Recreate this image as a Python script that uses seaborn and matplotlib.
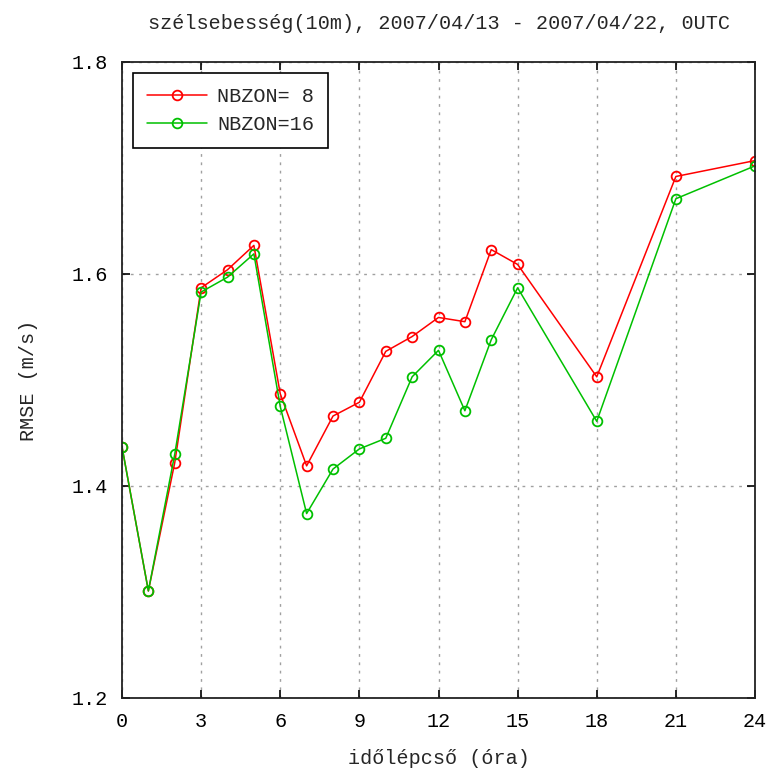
import matplotlib
matplotlib.use("Agg")
import matplotlib.pyplot as plt
import seaborn as sns
import pandas as pd

hours = [0, 1, 2, 3, 4, 5, 6, 7, 8, 9, 10, 11, 12, 13, 14, 15, 18, 21, 24]
rmse_nbzon8 = [1.437, 1.301, 1.422, 1.587, 1.604, 1.627, 1.487, 1.419, 1.466, 1.479,
               1.527, 1.541, 1.559, 1.555, 1.623, 1.609, 1.503, 1.692, 1.707]
rmse_nbzon16 = [1.437, 1.301, 1.430, 1.583, 1.597, 1.619, 1.475, 1.374, 1.416, 1.435,
                1.445, 1.503, 1.528, 1.471, 1.538, 1.587, 1.461, 1.671, 1.702]
series_names = ["NBZON= 8", "NBZON=16"]
x_ticks = [0, 3, 6, 9, 12, 15, 18, 21, 24]
y_ticks = [1.2, 1.4, 1.6, 1.8]
title = "szélsebesség(10m), 2007/04/13 - 2007/04/22, 0UTC"
xlabel = "időlépcső (óra)"
ylabel = "RMSE (m/s)"

sns.set_style("white")
plt.rcParams["font.family"] = ["Liberation Mono", "DejaVu Sans Mono"]
FS = 14.5

df = pd.DataFrame({
    "x": hours * 2,
    "y": rmse_nbzon8 + rmse_nbzon16,
    "series": [series_names[0]] * len(hours) + [series_names[1]] * len(hours),
})

fig = plt.figure(figsize=(7.78, 7.78), dpi=100)
ax = fig.add_axes([122 / 778, 1 - 698 / 778, (755 - 122) / 778, (698 - 62) / 778])

colors = {series_names[0]: "#ff0000", series_names[1]: "#00c000"}
for name in series_names:
    sub = df[df["series"] == name]
    sns.lineplot(data=sub, x="x", y="y", ax=ax, color=colors[name], label=name,
                 marker="o", markersize=7, markerfacecolor="none",
                 markeredgecolor=colors[name], markeredgewidth=1.3, linewidth=1.1)

ax.set_xlim(0, 24)
ax.set_ylim(1.2, 1.8)
ax.set_xticks(x_ticks)
ax.set_yticks(y_ticks)
ax.set_xticklabels([str(t) for t in x_ticks], fontsize=FS)
ax.set_yticklabels([f"{t:.1f}" for t in y_ticks], fontsize=FS)
ax.tick_params(direction="in", length=6, width=1.2, top=True, right=True,
               bottom=True, left=True, pad=10, colors="black")
ax.grid(True, color="#a0a0a0", linestyle=(0, (2, 4)), linewidth=1)
for s in ax.spines.values():
    s.set_color("#222222")
    s.set_linewidth(1.3)

ax.set_title(title, fontsize=FS, pad=24)
ax.set_xlabel(xlabel, fontsize=FS, labelpad=13)
ax.set_ylabel(ylabel, fontsize=FS, labelpad=24)

leg = ax.legend(loc="upper left", bbox_to_anchor=(0.017, 0.983), fontsize=FS,
                frameon=True, fancybox=False, edgecolor="black", framealpha=1,
                handlelength=3.0, borderpad=0.7, labelspacing=0.45, handletextpad=0.5,
                borderaxespad=0)
leg.get_frame().set_linewidth(1.2)

fig.savefig("out.png", dpi=100)
